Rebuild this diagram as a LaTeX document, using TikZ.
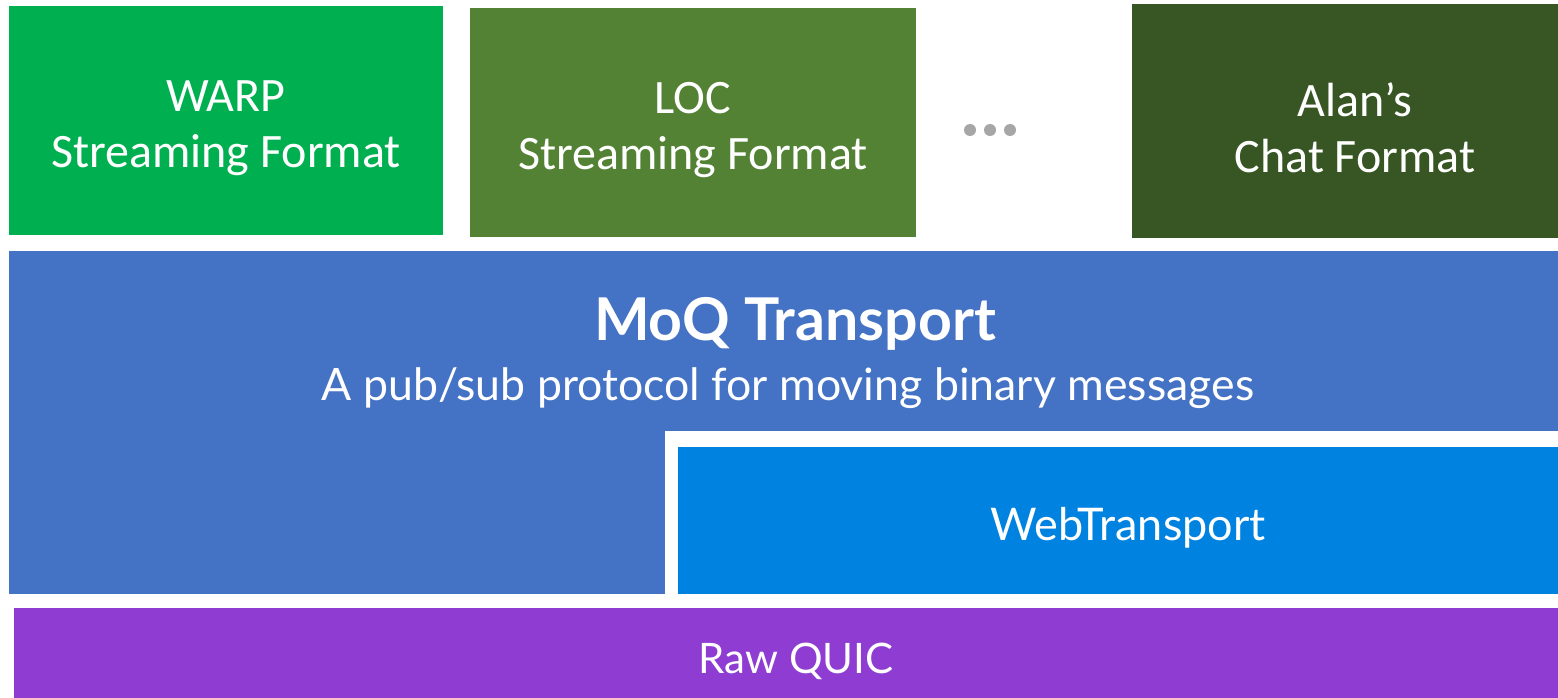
\documentclass[tikz,border=0pt]{standalone}
\usepackage{fontspec}
\setmainfont{Carlito}
\newfontfamily\latofont{Lato}
\usetikzlibrary{positioning}
\definecolor{warpgreen}{HTML}{00B050}
\definecolor{locgreen}{HTML}{548235}
\definecolor{chatgreen}{HTML}{375623}
\definecolor{moqblue}{HTML}{4472C4}
\definecolor{wtblue}{HTML}{0082E0}
\definecolor{quicpurple}{HTML}{8E3CD2}
\definecolor{dotgray}{HTML}{A6A6A6}
\tikzset{
    layer/.style={inner sep=0pt, text=white, align=center},
    fmtbox/.style={layer, font=\fontsize{48}{56}\selectfont},
    lowbox/.style={layer, font=\latofont\fontsize{42}{50}\selectfont},
}

\begin{document}
\begin{tikzpicture}[x=1pt, y=-1pt]
\useasboundingbox (0,0) rectangle (1558,698);
% formats on top
\node[fmtbox, fill=warpgreen, minimum width=434pt, minimum height=229pt] (warp) at (226,120.5) {};
\node[fmtbox, fill=locgreen, minimum width=446pt, minimum height=229pt] (loc) at (693,122.5) {};
\node[fmtbox, fill=chatgreen, minimum width=446pt, minimum height=234pt] (chat) at (1355,121) {};
\node[fmtbox] (warptext) at (226,128) {WARP\\Streaming Format};
\node[fmtbox] (loctext) at (693,130) {LOC\\Streaming Format};
\node[fmtbox] (chattext) at (1355,128) {Alan’s\\Chat Format};
\foreach \x in {970,990,1010}
    \fill[dotgray] (\x,130) circle (6pt);

% transport
\node[layer, fill=moqblue, minimum width=1569pt, minimum height=180pt] (moq) at (793.5,341) {};
\node[fill=moqblue, inner sep=0pt, minimum width=656pt, minimum height=163pt] (moqleg) at (337,512.5) {};
\node[lowbox, font=\latofont\bfseries\fontsize{59}{60}\selectfont] (moqtitle) at (795,324) {MoQ Transport};
\node[lowbox, font=\latofont\fontsize{44.6}{50}\selectfont] (moqsub) at (788,388) {A pub/sub protocol for moving binary messages};

% web transport and raw quic
\node[lowbox, fill=wtblue, minimum width=900pt, minimum height=147pt] (wt) at (1128,520.5) {};
\node[lowbox, font=\latofont\fontsize{45}{50}\selectfont] (wttext) at (1128,528) {WebTransport};
\node[lowbox, fill=quicpurple, minimum width=1564pt, minimum height=90pt] (quic) at (796,653) {};
\node[lowbox] (quictext) at (796,661) {Raw QUIC};
\end{tikzpicture}
\end{document}
